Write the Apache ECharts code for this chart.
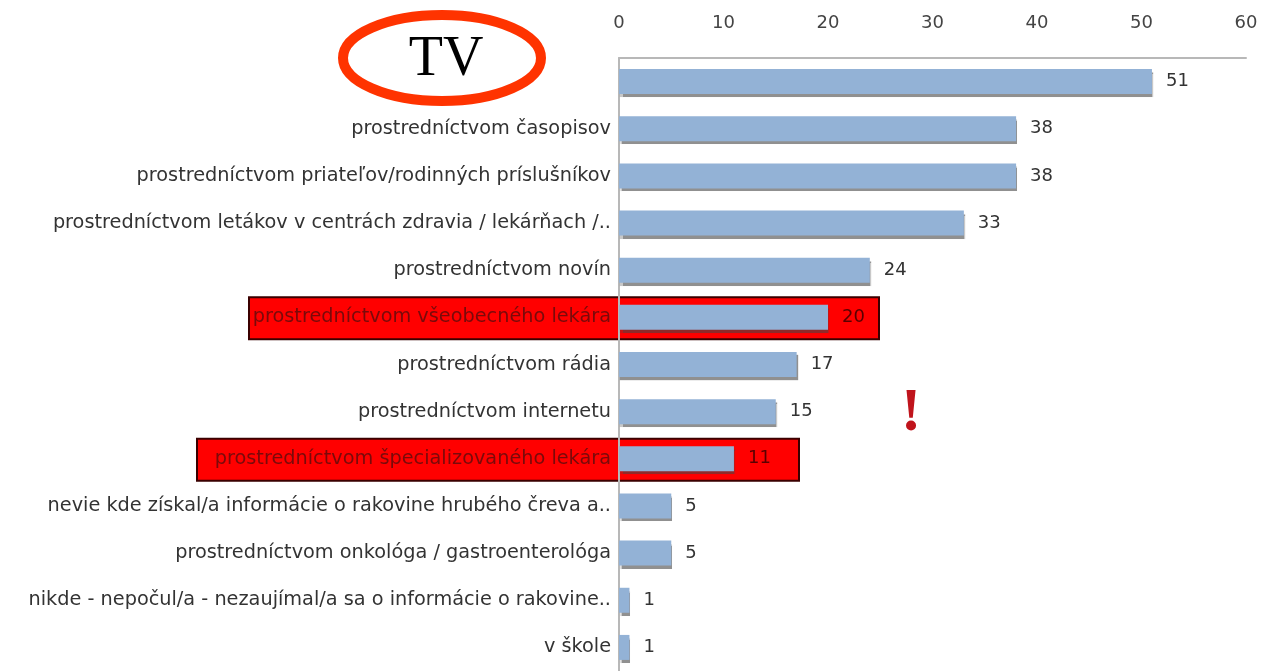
<!DOCTYPE html>
<html>
<head>
<meta charset="utf-8">
<script src="https://cdn.jsdelivr.net/npm/echarts@6/dist/echarts.min.js"></script>
<style>
  html, body { margin: 0; padding: 0; background: #fff; }
  #chart { width: 1265px; height: 671px; }
</style>
</head>
<body>
<div id="chart"></div>
<script>
// kategórie (prvá je prekrytá poznámkou "TV")
const categories = [
  "",
  "prostredníctvom časopisov",
  "prostredníctvom priateľov/rodinných príslušníkov",
  "prostredníctvom letákov v centrách zdravia / lekárňach /..",
  "prostredníctvom novín",
  "prostredníctvom všeobecného lekára",
  "prostredníctvom rádia",
  "prostredníctvom internetu",
  "prostredníctvom špecializovaného lekára",
  "nevie kde získal/a informácie o rakovine hrubého čreva a..",
  "prostredníctvom onkológa / gastroenterológa",
  "nikde - nepočul/a - nezaujímal/a sa o informácie o rakovine..",
  "v škole"
];
const values = [51, 38, 38, 33, 24, 20, 17, 15, 11, 5, 5, 1, 1];
const highlighted = [5, 8];
const xTicks = [0, 10, 20, 30, 40, 50, 60];

const chartDom = document.getElementById("chart");
const myChart = echarts.init(chartDom);
const font = "'DejaVu Sans', sans-serif";

const option = {
  animation: false,
  grid: { left: 619, top: 58, width: 627, height: 619 },
  xAxis: {
    type: "value",
    position: "top",
    min: xTicks[0],
    max: xTicks[xTicks.length - 1],
    interval: 10,
    axisLine: { show: true, lineStyle: { color: "#b8b8b8", width: 2 } },
    axisTick: { show: false },
    splitLine: { show: false },
    axisLabel: { margin: 26, fontSize: 18, color: "#444", fontFamily: font }
  },
  yAxis: {
    type: "category",
    inverse: true,
    z: 3,
    data: categories,
    axisLine: { show: true, lineStyle: { color: "#b8b8b8", width: 2 } },
    axisTick: { show: false },
    axisLabel: {
      margin: 8,
      fontSize: 19.3,
      color: "#333",
      fontFamily: font,
      formatter: (v, i) => (highlighted.includes(i) ? "{hl|" + v + "}" : v),
      rich: { hl: { color: "#7a0a0a", fontSize: 19.3, fontFamily: font } }
    }
  },
  series: [
    {
      type: "bar",
      barWidth: 25,
      z: 5,
      data: values.map((v, i) => ({
        value: v,
        label: highlighted.includes(i) ? { color: "#5a0000" } : undefined
      })),
      itemStyle: {
        color: "#93b2d6",
        shadowColor: "rgba(70,70,70,0.6)",
        shadowOffsetX: 1,
        shadowOffsetY: 3,
        shadowBlur: 1
      },
      label: {
        show: true,
        position: "right",
        distance: 14,
        fontSize: 18,
        color: "#333",
        fontFamily: font
      }
    }
  ]
};
myChart.setOption(option);

// červené rámčeky okolo zvýraznených riadkov, y podľa osi
const boxes = [
  { row: 5, left: 249, right: 879 },
  { row: 8, left: 197, right: 799 }
];
const graphics = boxes.map((b) => {
  const cy = myChart.convertToPixel({ yAxisIndex: 0 }, categories[b.row]);
  return {
    type: "rect",
    z: -1,
    shape: { x: b.left, y: cy - 20, width: b.right - b.left, height: 42 },
    style: { fill: "#ff0000", stroke: "#3a0000", lineWidth: 2 }
  };
});
graphics.push(
  {
    type: "ellipse",
    z: 10,
    shape: { cx: 442, cy: 58, rx: 99, ry: 43 },
    style: { fill: "none", stroke: "#ff3300", lineWidth: 10 }
  },
  {
    type: "text",
    z: 11,
    x: 446,
    y: 60,
    style: {
      text: "TV",
      font: "56px 'Liberation Serif', serif",
      fill: "#000",
      align: "center",
      verticalAlign: "middle"
    }
  },
  {
    type: "text",
    z: 11,
    x: 911,
    y: 414,
    style: {
      text: "!",
      font: "bold 62px 'Liberation Serif', serif",
      fill: "#c0141c",
      align: "center",
      verticalAlign: "middle"
    }
  }
);
myChart.setOption({ graphic: graphics });
</script>
</body>
</html>
